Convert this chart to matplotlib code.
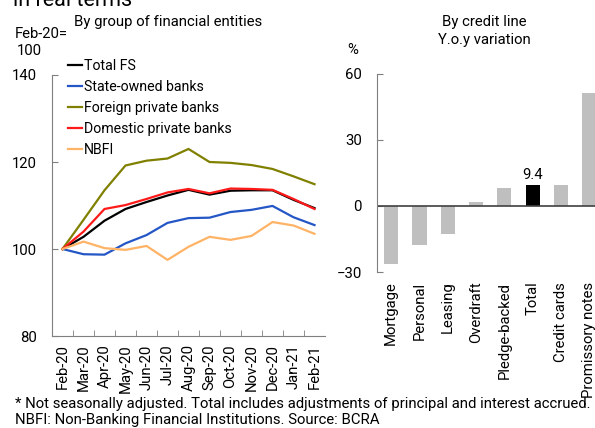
import numpy as np
import matplotlib.pyplot as plt
from matplotlib.ticker import FixedLocator, MultipleLocator

plt.rcParams['font.family'] = ['Roboto', 'DejaVu Sans']
FS = 10.7
plt.rcParams['font.size'] = FS

months = ['Feb-20', 'Mar-20', 'Apr-20', 'May-20', 'Jun-20', 'Jul-20', 'Aug-20',
          'Sep-20', 'Oct-20', 'Nov-20', 'Dec-20', 'Jan-21', 'Feb-21']
total_fs = [100, 102.8, 106.5, 109.2, 110.8, 112.3, 113.6, 112.5, 113.4, 113.5, 113.5, 111.3, 109.4]
state_owned = [100, 98.8, 98.7, 101.3, 103.2, 106.0, 107.1, 107.2, 108.5, 109.0, 109.9, 107.3, 105.5]
foreign_priv = [100, 106.7, 113.5, 119.2, 120.3, 120.8, 123.0, 120.0, 119.8, 119.3, 118.4, 116.7, 114.9]
domestic_priv = [100, 104.0, 109.2, 110.1, 111.5, 113.0, 113.8, 112.8, 113.9, 113.8, 113.6, 111.5, 109.2]
nbfi = [100, 101.7, 100.2, 99.8, 100.7, 97.5, 100.5, 102.8, 102.1, 103.0, 106.2, 105.4, 103.5]

credit_lines = ['Mortgage', 'Personal', 'Leasing', 'Overdraft', 'Pledge-backed',
                'Total', 'Credit cards', 'Promissory notes']
yoy = [-26.5, -17.9, -12.9, 1.7, 8.3, 9.4, 9.6, 51.4]

series = [
    ('Total FS', total_fs, '#000000'),
    ('State-owned banks', state_owned, '#2457c5'),
    ('Foreign private banks', foreign_priv, '#808000'),
    ('Domestic private banks', domestic_priv, '#ff1a1a'),
    ('NBFI', nbfi, '#ffb366'),
]

W, H = 595, 428
fig = plt.figure(figsize=(W / 100, H / 100), dpi=100)

spine_col = '#7f7f7f'

# left panel: indices by group of entities
ax = fig.add_axes([52 / W, 1 - 336 / H, 273 / W, 261 / H])
x = np.arange(len(months))
for name, vals, col in series:
    ax.plot(x, vals, color=col, lw=1.6, label=name)
ax.set_xlim(-0.5, len(months) - 0.5)
ax.set_ylim(80, 140)
ax.yaxis.set_major_locator(MultipleLocator(20))
ax.set_xticks(x)
ax.set_xticklabels(months, rotation=90)
ax.xaxis.set_minor_locator(FixedLocator(np.arange(0.5, len(months) - 0.5, 1)))
ax.tick_params(axis='x', which='major', length=0, pad=6, labelsize=FS)
ax.tick_params(axis='x', which='minor', direction='in', length=4, color=spine_col)
ax.tick_params(axis='y', direction='in', length=4, color=spine_col, pad=11, labelsize=FS)
for s in ['top', 'right']:
    ax.spines[s].set_visible(False)
for s in ['left', 'bottom']:
    ax.spines[s].set_color(spine_col)
ax.legend(loc='upper left', bbox_to_anchor=(68 / W, 1 - 59 / H),
          bbox_transform=fig.transFigure, frameon=False, handlelength=1.0,
          handletextpad=0.15, labelspacing=0.5, borderaxespad=0, borderpad=0,
          fontsize=FS - 0.5)

# right panel: y.o.y. variation by credit line
bx = fig.add_axes([377 / W, 1 - 272 / H, 226.4 / W, 198.3 / H])
bx.set_xlim(-0.5, len(credit_lines) - 0.5)
bx.set_ylim(-30, 60)
bar_cols = ['#000000' if c == 'Total' else '#bfbfbf' for c in credit_lines]
bars = bx.bar(np.arange(len(credit_lines)), yoy, width=0.5, color=bar_cols)
bx.bar_label(bars, labels=[f'{v:.1f}' if c == 'Total' else '' for c, v in zip(credit_lines, yoy)],
             padding=2, fontsize=FS)
bx.axhline(0, color='#404040', lw=1.2)
bx.yaxis.set_major_locator(MultipleLocator(30))
bx.set_xticks(np.arange(len(credit_lines)))
bx.set_xticklabels(credit_lines, rotation=90)
bx.tick_params(axis='x', length=0, pad=7, labelsize=FS)
bx.tick_params(axis='y', direction='in', length=4, color=spine_col, pad=11, labelsize=FS)
for s in ['top', 'right', 'bottom']:
    bx.spines[s].set_visible(False)
bx.spines['left'].set_color(spine_col)

# titles and notes
fig.text(13 / W, 1 - 6 / H, 'in real terms', fontsize=15.5, va='baseline', ha='left')
fig.text(74 / W, 1 - 22 / H, 'By group of financial entities', fontsize=FS, va='center')
fig.text(15 / W, 1 - 34 / H, 'Feb-20=', fontsize=FS, va='center')
fig.text(17 / W, 1 - 51 / H, '100', fontsize=FS, va='center')
fig.text(484 / W, 1 - 22 / H, 'By credit line', fontsize=FS, va='center', ha='center')
fig.text(484 / W, 1 - 40 / H, 'Y.o.y variation', fontsize=FS, va='center', ha='center')
fig.text(347 / W, 1 - 50 / H, '%', fontsize=FS, va='center')
fig.text(15 / W, 1 - 404 / H,
         '* Not seasonally adjusted. Total includes adjustments of principal and interest accrued.',
         fontsize=FS, va='center')
fig.text(15 / W, 1 - 420 / H,
         'NBFI: Non-Banking Financial Institutions. Source: BCRA',
         fontsize=FS, va='center')

fig.savefig('out.png', dpi=100)
